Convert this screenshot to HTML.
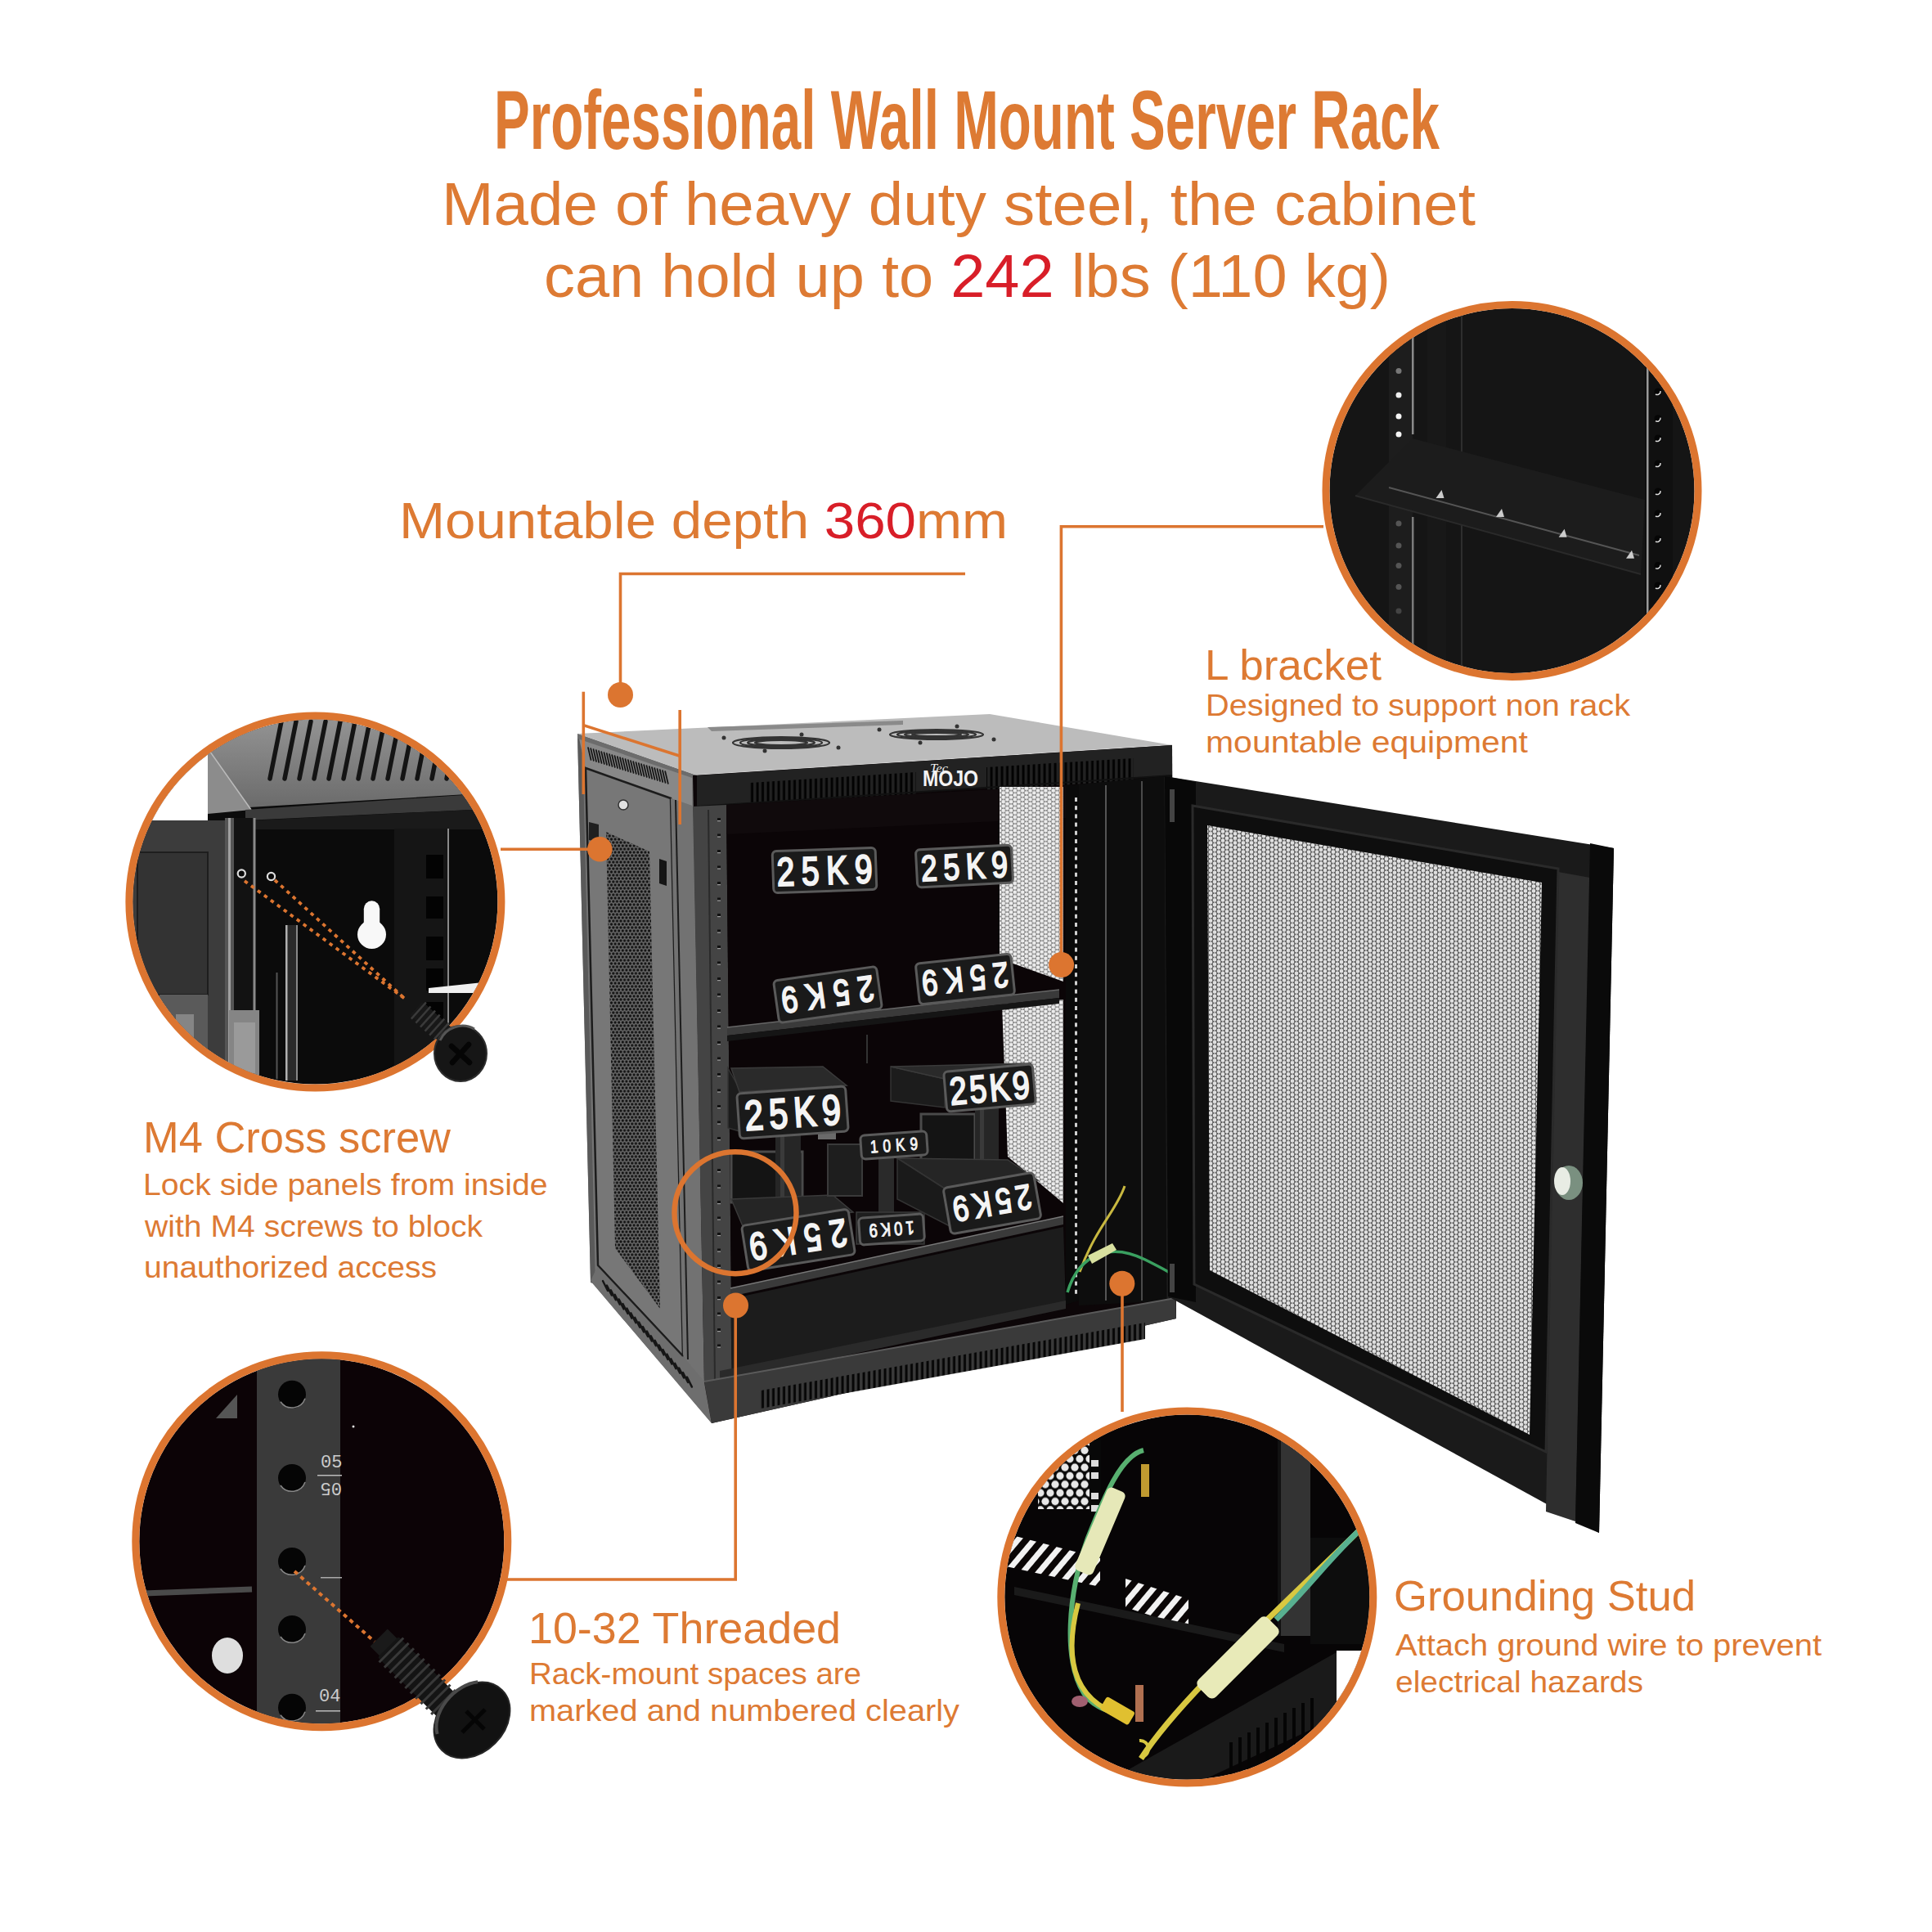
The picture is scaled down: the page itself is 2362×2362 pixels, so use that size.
<!DOCTYPE html>
<html><head><meta charset="utf-8"><title>Professional Wall Mount Server Rack</title>
<style>html,body{margin:0;padding:0;background:#fff;width:2362px;height:2362px;overflow:hidden}svg{display:block}</style>
</head><body>
<svg xmlns="http://www.w3.org/2000/svg" width="2362" height="2362" viewBox="0 0 2362 2362">
<defs>
<pattern id="perfDoor" patternUnits="userSpaceOnUse" width="10" height="5.6">
  <rect width="10" height="5.6" fill="#333333"/>
  <circle cx="0" cy="0" r="2.45" fill="#e0e0e0"/>
  <circle cx="10" cy="0" r="2.45" fill="#e0e0e0"/>
  <circle cx="0" cy="5.6" r="2.45" fill="#e0e0e0"/>
  <circle cx="10" cy="5.6" r="2.45" fill="#e0e0e0"/>
  <circle cx="5" cy="2.8" r="2.45" fill="#e0e0e0"/>
</pattern>
<pattern id="perfRear" patternUnits="userSpaceOnUse" width="9.4" height="5.4">
  <rect width="9.4" height="5.4" fill="#444444"/>
  <circle cx="0" cy="0" r="2.5" fill="#ececec"/>
  <circle cx="9.4" cy="0" r="2.5" fill="#ececec"/>
  <circle cx="0" cy="5.4" r="2.5" fill="#ececec"/>
  <circle cx="9.4" cy="5.4" r="2.5" fill="#ececec"/>
  <circle cx="4.7" cy="2.7" r="2.5" fill="#ececec"/>
</pattern>
<pattern id="perfSide" patternUnits="userSpaceOnUse" width="4.6" height="8">
  <rect width="4.6" height="8" fill="#6a6a6a"/>
  <circle cx="2.3" cy="2" r="1.65" fill="#141414"/>
  <circle cx="0" cy="6" r="1.65" fill="#141414"/>
  <circle cx="4.6" cy="6" r="1.65" fill="#141414"/>
</pattern>
<pattern id="ventB" patternUnits="userSpaceOnUse" width="6.5" height="40">
  <rect width="6.5" height="40" fill="#3a3a3a"/>
  <rect x="1.5" width="3" height="40" fill="#050505"/>
</pattern>
<pattern id="ventV" patternUnits="userSpaceOnUse" width="6.5" height="40">
  <rect width="6.5" height="40" fill="#222"/>
  <rect x="1.5" width="3" height="40" fill="#020202"/>
</pattern>
<pattern id="ventS" patternUnits="userSpaceOnUse" width="7" height="40" patternTransform="skewX(-30)">
  <rect width="7" height="40" fill="#444"/>
  <rect x="2" width="3" height="40" fill="#0a0a0a"/>
</pattern>
<pattern id="perfBig" patternUnits="userSpaceOnUse" width="12" height="20.8">
  <rect width="12" height="20.8" fill="#0a0a0a"/>
  <circle cx="6" cy="5.2" r="4.6" fill="#e8e8e8"/>
  <circle cx="0" cy="15.6" r="4.6" fill="#e8e8e8"/>
  <circle cx="12" cy="15.6" r="4.6" fill="#e8e8e8"/>
</pattern>
<pattern id="stripes" patternUnits="userSpaceOnUse" width="15" height="15" patternTransform="rotate(40)">
  <rect width="15" height="15" fill="#0a0606"/>
  <rect x="0" width="7" height="15" fill="#f2f2f2"/>
</pattern>
<clipPath id="c1"><circle cx="1848.5" cy="600" r="223"/></clipPath><clipPath id="c2"><circle cx="385.4" cy="1102.6" r="223"/></clipPath><linearGradient id="ovh" x1="0" y1="0" x2="0" y2="1"><stop offset="0" stop-color="#9a9a9a"/><stop offset="1" stop-color="#6a6a6a"/></linearGradient><clipPath id="c3"><circle cx="393.3" cy="1884.2" r="223"/></clipPath><clipPath id="c4"><circle cx="1451.3" cy="1952.6" r="223"/></clipPath></defs>
<rect width="2362" height="2362" fill="#ffffff"/>
<g font-family="Liberation Sans, sans-serif">
<text x="604" y="182" font-size="102" font-weight="bold" fill="#DD7A33" textLength="1156" lengthAdjust="spacingAndGlyphs" >Professional Wall Mount Server Rack</text>
<text x="540" y="275.4" font-size="74" font-weight="normal" fill="#DD7A33" textLength="1264" lengthAdjust="spacingAndGlyphs" >Made of heavy duty steel, the cabinet</text>
<text x="665" y="363" font-size="74" font-weight="normal" fill="#DD7A33" textLength="1035" lengthAdjust="spacingAndGlyphs" >can hold up to <tspan fill="#D81E28">242</tspan> lbs (110 kg)</text>
<text x="488" y="658.2" font-size="63.5" font-weight="normal" fill="#DD7A33" textLength="744" lengthAdjust="spacingAndGlyphs" >Mountable depth <tspan fill="#D81E28">360</tspan>mm</text>
<text x="1473" y="831.2" font-size="51.6" font-weight="normal" fill="#DD7A33" textLength="216" lengthAdjust="spacingAndGlyphs" >L bracket</text>
<text x="1474" y="874.8" font-size="36.3" font-weight="normal" fill="#DD7A33" textLength="519" lengthAdjust="spacingAndGlyphs" >Designed to support non rack</text>
<text x="1474" y="920.3" font-size="36.3" font-weight="normal" fill="#DD7A33" textLength="394" lengthAdjust="spacingAndGlyphs" >mountable equipment</text>
<text x="175" y="1408.9" font-size="52.8" font-weight="normal" fill="#DD7A33" textLength="376" lengthAdjust="spacingAndGlyphs" >M4 Cross screw</text>
<text x="175" y="1461.2" font-size="36.6" font-weight="normal" fill="#DD7A33" textLength="494.5" lengthAdjust="spacingAndGlyphs" >Lock side panels from inside</text>
<text x="177" y="1511.8" font-size="36.6" font-weight="normal" fill="#DD7A33" textLength="413" lengthAdjust="spacingAndGlyphs" >with M4 screws to block</text>
<text x="176" y="1561.8" font-size="36.6" font-weight="normal" fill="#DD7A33" textLength="358" lengthAdjust="spacingAndGlyphs" >unauthorized access</text>
<text x="646" y="2009.3" font-size="53.8" font-weight="normal" fill="#DD7A33" textLength="382" lengthAdjust="spacingAndGlyphs" >10-32 Threaded</text>
<text x="647" y="2058.6" font-size="36" font-weight="normal" fill="#DD7A33" textLength="406" lengthAdjust="spacingAndGlyphs" >Rack-mount spaces are</text>
<text x="647" y="2103.5" font-size="36" font-weight="normal" fill="#DD7A33" textLength="526" lengthAdjust="spacingAndGlyphs" >marked and numbered clearly</text>
<text x="1704" y="1968.7" font-size="52" font-weight="normal" fill="#DD7A33" textLength="369" lengthAdjust="spacingAndGlyphs" >Grounding Stud</text>
<text x="1706" y="2024.3" font-size="37.8" font-weight="normal" fill="#DD7A33" textLength="521" lengthAdjust="spacingAndGlyphs" >Attach ground wire to prevent</text>
<text x="1706" y="2069.3" font-size="37.8" font-weight="normal" fill="#DD7A33" textLength="303" lengthAdjust="spacingAndGlyphs" >electrical hazards</text>
</g>
<polygon points="706.0,897.0 852.0,948.0 861.0,1690.0 870.0,1740.0 722.0,1566.0" fill="#747474" />
<polygon points="706.0,897.0 712.0,899.0 728.0,1570.0 722.0,1568.0" fill="#5a5a5a" />
<polygon points="708.0,903.0 846.0,950.0 846.0,985.0 820.0,976.0 716.0,939.0" fill="#888888" />
<polygon points="706.0,897.0 852.0,948.0 852.0,953.0 706.0,903.0" fill="#6c6c6c" />
<line x1="719.0" y1="914.0" x2="722.5" y2="929.0" stroke="#141414" stroke-width="1.7" stroke-linecap="round"/>
<line x1="722.2" y1="915.0" x2="725.8" y2="930.0" stroke="#141414" stroke-width="1.7" stroke-linecap="round"/>
<line x1="725.5" y1="916.0" x2="729.0" y2="931.0" stroke="#141414" stroke-width="1.7" stroke-linecap="round"/>
<line x1="728.8" y1="917.0" x2="732.2" y2="932.0" stroke="#141414" stroke-width="1.7" stroke-linecap="round"/>
<line x1="732.0" y1="918.0" x2="735.5" y2="933.0" stroke="#141414" stroke-width="1.7" stroke-linecap="round"/>
<line x1="735.2" y1="919.0" x2="738.8" y2="934.0" stroke="#141414" stroke-width="1.7" stroke-linecap="round"/>
<line x1="738.5" y1="920.0" x2="742.0" y2="935.0" stroke="#141414" stroke-width="1.7" stroke-linecap="round"/>
<line x1="741.8" y1="921.0" x2="745.2" y2="936.0" stroke="#141414" stroke-width="1.7" stroke-linecap="round"/>
<line x1="745.0" y1="922.0" x2="748.5" y2="937.0" stroke="#141414" stroke-width="1.7" stroke-linecap="round"/>
<line x1="748.2" y1="923.0" x2="751.8" y2="938.0" stroke="#141414" stroke-width="1.7" stroke-linecap="round"/>
<line x1="751.5" y1="924.0" x2="755.0" y2="939.0" stroke="#141414" stroke-width="1.7" stroke-linecap="round"/>
<line x1="754.8" y1="925.0" x2="758.2" y2="940.0" stroke="#141414" stroke-width="1.7" stroke-linecap="round"/>
<line x1="758.0" y1="926.0" x2="761.5" y2="941.0" stroke="#141414" stroke-width="1.7" stroke-linecap="round"/>
<line x1="761.2" y1="927.0" x2="764.8" y2="942.0" stroke="#141414" stroke-width="1.7" stroke-linecap="round"/>
<line x1="764.5" y1="928.0" x2="768.0" y2="943.0" stroke="#141414" stroke-width="1.7" stroke-linecap="round"/>
<line x1="767.8" y1="929.0" x2="771.2" y2="944.0" stroke="#141414" stroke-width="1.7" stroke-linecap="round"/>
<line x1="771.0" y1="930.0" x2="774.5" y2="945.0" stroke="#141414" stroke-width="1.7" stroke-linecap="round"/>
<line x1="774.2" y1="931.0" x2="777.8" y2="946.0" stroke="#141414" stroke-width="1.7" stroke-linecap="round"/>
<line x1="777.5" y1="932.0" x2="781.0" y2="947.0" stroke="#141414" stroke-width="1.7" stroke-linecap="round"/>
<line x1="780.8" y1="933.0" x2="784.2" y2="948.0" stroke="#141414" stroke-width="1.7" stroke-linecap="round"/>
<line x1="784.0" y1="934.0" x2="787.5" y2="949.0" stroke="#141414" stroke-width="1.7" stroke-linecap="round"/>
<line x1="787.2" y1="935.0" x2="790.8" y2="950.0" stroke="#141414" stroke-width="1.7" stroke-linecap="round"/>
<line x1="790.5" y1="936.0" x2="794.0" y2="951.0" stroke="#141414" stroke-width="1.7" stroke-linecap="round"/>
<line x1="793.8" y1="937.0" x2="797.2" y2="952.0" stroke="#141414" stroke-width="1.7" stroke-linecap="round"/>
<line x1="797.0" y1="938.0" x2="800.5" y2="953.0" stroke="#141414" stroke-width="1.7" stroke-linecap="round"/>
<line x1="800.2" y1="939.0" x2="803.8" y2="954.0" stroke="#141414" stroke-width="1.7" stroke-linecap="round"/>
<line x1="803.5" y1="940.0" x2="807.0" y2="955.0" stroke="#141414" stroke-width="1.7" stroke-linecap="round"/>
<line x1="806.8" y1="941.0" x2="810.2" y2="956.0" stroke="#141414" stroke-width="1.7" stroke-linecap="round"/>
<line x1="810.0" y1="942.0" x2="813.5" y2="957.0" stroke="#141414" stroke-width="1.7" stroke-linecap="round"/>
<line x1="813.2" y1="943.0" x2="816.8" y2="958.0" stroke="#141414" stroke-width="1.7" stroke-linecap="round"/>
<polygon points="716.0,939.0 820.0,976.0 835.0,1658.0 731.0,1547.0" fill="#777777" stroke="#1c1c1c" stroke-width="2.5"/>
<polygon points="741.0,1017.0 794.0,1041.0 807.0,1600.0 752.0,1526.0" fill="url(#perfSide)" />
<polygon points="806.0,1050.0 815.0,1053.0 815.0,1083.0 806.0,1080.0" fill="#151515" />
<polygon points="720.0,1005.0 732.0,1008.0 732.0,1030.0 720.0,1027.0" fill="#202020" />
<circle cx="762" cy="984" r="6" fill="#e0e0e0" stroke="#333" stroke-width="1.5"/>
<polygon points="820.0,976.0 846.0,985.0 861.0,1689.0 835.0,1658.0" fill="#727272" />
<line x1="826" y1="978" x2="841" y2="1662" stroke="#1c1c1c" stroke-width="2" />
<polygon points="722.0,1566.0 731.0,1547.0 835.0,1658.0 861.0,1689.0 870.0,1740.0" fill="#6e6e6e" />
<line x1="731" y1="1547" x2="835" y2="1658" stroke="#1c1c1c" stroke-width="2" />
<line x1="737.0" y1="1566.0" x2="743.0" y2="1578.0" stroke="#151515" stroke-width="2.4" stroke-linecap="round"/>
<line x1="741.9" y1="1571.6" x2="747.9" y2="1583.6" stroke="#151515" stroke-width="2.4" stroke-linecap="round"/>
<line x1="746.8" y1="1577.2" x2="752.8" y2="1589.2" stroke="#151515" stroke-width="2.4" stroke-linecap="round"/>
<line x1="751.7" y1="1582.8" x2="757.7" y2="1594.8" stroke="#151515" stroke-width="2.4" stroke-linecap="round"/>
<line x1="756.6" y1="1588.4" x2="762.6" y2="1600.4" stroke="#151515" stroke-width="2.4" stroke-linecap="round"/>
<line x1="761.5" y1="1594.0" x2="767.5" y2="1606.0" stroke="#151515" stroke-width="2.4" stroke-linecap="round"/>
<line x1="766.4" y1="1599.6" x2="772.4" y2="1611.6" stroke="#151515" stroke-width="2.4" stroke-linecap="round"/>
<line x1="771.3" y1="1605.2" x2="777.3" y2="1617.2" stroke="#151515" stroke-width="2.4" stroke-linecap="round"/>
<line x1="776.2" y1="1610.8" x2="782.2" y2="1622.8" stroke="#151515" stroke-width="2.4" stroke-linecap="round"/>
<line x1="781.1" y1="1616.4" x2="787.1" y2="1628.4" stroke="#151515" stroke-width="2.4" stroke-linecap="round"/>
<line x1="786.0" y1="1622.0" x2="792.0" y2="1634.0" stroke="#151515" stroke-width="2.4" stroke-linecap="round"/>
<line x1="790.9" y1="1627.6" x2="796.9" y2="1639.6" stroke="#151515" stroke-width="2.4" stroke-linecap="round"/>
<line x1="795.8" y1="1633.2" x2="801.8" y2="1645.2" stroke="#151515" stroke-width="2.4" stroke-linecap="round"/>
<line x1="800.7" y1="1638.8" x2="806.7" y2="1650.8" stroke="#151515" stroke-width="2.4" stroke-linecap="round"/>
<line x1="805.6" y1="1644.4" x2="811.6" y2="1656.4" stroke="#151515" stroke-width="2.4" stroke-linecap="round"/>
<line x1="810.5" y1="1650.0" x2="816.5" y2="1662.0" stroke="#151515" stroke-width="2.4" stroke-linecap="round"/>
<line x1="815.4" y1="1655.6" x2="821.4" y2="1667.6" stroke="#151515" stroke-width="2.4" stroke-linecap="round"/>
<line x1="820.3" y1="1661.2" x2="826.3" y2="1673.2" stroke="#151515" stroke-width="2.4" stroke-linecap="round"/>
<line x1="825.2" y1="1666.8" x2="831.2" y2="1678.8" stroke="#151515" stroke-width="2.4" stroke-linecap="round"/>
<line x1="830.1" y1="1672.4" x2="836.1" y2="1684.4" stroke="#151515" stroke-width="2.4" stroke-linecap="round"/>
<line x1="835.0" y1="1678.0" x2="841.0" y2="1690.0" stroke="#151515" stroke-width="2.4" stroke-linecap="round"/>
<line x1="839.9" y1="1683.6" x2="845.9" y2="1695.6" stroke="#151515" stroke-width="2.4" stroke-linecap="round"/>
<polygon points="706.0,897.0 1210.0,873.0 1433.0,911.0 852.0,948.0" fill="#bcbcbc" />
<line x1="852" y1="948" x2="1433" y2="911" stroke="#d8d8d8" stroke-width="2" />
<ellipse cx="955" cy="908" rx="59" ry="7.0" fill="none" stroke="#333" stroke-width="2.2"/>
<ellipse cx="955" cy="908" rx="50" ry="5.7" fill="none" stroke="#333" stroke-width="2.2"/>
<ellipse cx="955" cy="908" rx="41" ry="4.4" fill="none" stroke="#333" stroke-width="2.2"/>
<ellipse cx="955" cy="908" rx="32" ry="3.1" fill="none" stroke="#333" stroke-width="2.2"/>
<circle cx="885" cy="902" r="2.5" fill="#333"/>
<circle cx="1025" cy="914" r="2.5" fill="#333"/>
<circle cx="935" cy="918" r="2.5" fill="#333"/>
<circle cx="980" cy="898" r="2.5" fill="#333"/>
<ellipse cx="1145" cy="898" rx="57" ry="6.0" fill="none" stroke="#333" stroke-width="2.2"/>
<ellipse cx="1145" cy="898" rx="48" ry="4.7" fill="none" stroke="#333" stroke-width="2.2"/>
<ellipse cx="1145" cy="898" rx="39" ry="3.4" fill="none" stroke="#333" stroke-width="2.2"/>
<ellipse cx="1145" cy="898" rx="30" ry="2.1" fill="none" stroke="#333" stroke-width="2.2"/>
<circle cx="1075" cy="892" r="2.5" fill="#333"/>
<circle cx="1215" cy="904" r="2.5" fill="#333"/>
<circle cx="1125" cy="908" r="2.5" fill="#333"/>
<circle cx="1170" cy="888" r="2.5" fill="#333"/>
<polygon points="865.0,889.0 1104.0,881.0 1104.0,886.0 870.0,894.0" fill="#8a8a8a" />
<polygon points="847.0,948.0 1433.0,911.0 1438.0,1612.0 870.0,1740.0 861.0,1690.0" fill="#0c0608" />
<polygon points="852.0,948.0 1433.0,911.0 1433.0,948.0 852.0,986.0" fill="#222222" />
<polygon points="917.0,957.0 1120.0,944.0 1120.0,972.0 917.0,984.0" fill="url(#ventV)" />
<polygon points="1206.0,938.0 1386.0,927.0 1386.0,954.0 1206.0,966.0" fill="url(#ventV)" />
<line x1="852" y1="986" x2="1433" y2="948" stroke="#111" stroke-width="2" />
<text x="1128" y="961" font-family="Liberation Sans, sans-serif" font-weight="bold" font-size="27" fill="#f4f4f4" textLength="68" lengthAdjust="spacingAndGlyphs">MOJO</text>
<text x="1137" y="944" font-family="Liberation Serif, serif" font-style="italic" font-size="14" fill="#eee" textLength="22" lengthAdjust="spacingAndGlyphs">Tec</text>
<polygon points="847.0,986.0 888.0,984.0 895.0,1690.0 861.0,1690.0" fill="#444444" />
<line x1="866" y1="990" x2="874" y2="1688" stroke="#2a2a2a" stroke-width="2" />
<rect x="877" y="1000.0" width="4" height="3" fill="#111"/>
<rect x="877" y="1003.0" width="4" height="1.2" fill="#999"/>
<rect x="877" y="1019.5" width="4" height="3" fill="#111"/>
<rect x="877" y="1022.5" width="4" height="1.2" fill="#999"/>
<rect x="877" y="1039.0" width="4" height="3" fill="#111"/>
<rect x="877" y="1042.0" width="4" height="1.2" fill="#999"/>
<rect x="877" y="1058.5" width="4" height="3" fill="#111"/>
<rect x="877" y="1061.5" width="4" height="1.2" fill="#999"/>
<rect x="877" y="1078.0" width="4" height="3" fill="#111"/>
<rect x="877" y="1081.0" width="4" height="1.2" fill="#999"/>
<rect x="877" y="1097.5" width="4" height="3" fill="#111"/>
<rect x="877" y="1100.5" width="4" height="1.2" fill="#999"/>
<rect x="877" y="1117.0" width="4" height="3" fill="#111"/>
<rect x="877" y="1120.0" width="4" height="1.2" fill="#999"/>
<rect x="877" y="1136.5" width="4" height="3" fill="#111"/>
<rect x="877" y="1139.5" width="4" height="1.2" fill="#999"/>
<rect x="877" y="1156.0" width="4" height="3" fill="#111"/>
<rect x="877" y="1159.0" width="4" height="1.2" fill="#999"/>
<rect x="877" y="1175.5" width="4" height="3" fill="#111"/>
<rect x="877" y="1178.5" width="4" height="1.2" fill="#999"/>
<rect x="877" y="1195.0" width="4" height="3" fill="#111"/>
<rect x="877" y="1198.0" width="4" height="1.2" fill="#999"/>
<rect x="877" y="1214.5" width="4" height="3" fill="#111"/>
<rect x="877" y="1217.5" width="4" height="1.2" fill="#999"/>
<rect x="877" y="1234.0" width="4" height="3" fill="#111"/>
<rect x="877" y="1237.0" width="4" height="1.2" fill="#999"/>
<rect x="877" y="1253.5" width="4" height="3" fill="#111"/>
<rect x="877" y="1256.5" width="4" height="1.2" fill="#999"/>
<rect x="877" y="1273.0" width="4" height="3" fill="#111"/>
<rect x="877" y="1276.0" width="4" height="1.2" fill="#999"/>
<rect x="877" y="1292.5" width="4" height="3" fill="#111"/>
<rect x="877" y="1295.5" width="4" height="1.2" fill="#999"/>
<rect x="877" y="1312.0" width="4" height="3" fill="#111"/>
<rect x="877" y="1315.0" width="4" height="1.2" fill="#999"/>
<rect x="877" y="1331.5" width="4" height="3" fill="#111"/>
<rect x="877" y="1334.5" width="4" height="1.2" fill="#999"/>
<rect x="877" y="1351.0" width="4" height="3" fill="#111"/>
<rect x="877" y="1354.0" width="4" height="1.2" fill="#999"/>
<rect x="877" y="1370.5" width="4" height="3" fill="#111"/>
<rect x="877" y="1373.5" width="4" height="1.2" fill="#999"/>
<rect x="877" y="1390.0" width="4" height="3" fill="#111"/>
<rect x="877" y="1393.0" width="4" height="1.2" fill="#999"/>
<rect x="877" y="1409.5" width="4" height="3" fill="#111"/>
<rect x="877" y="1412.5" width="4" height="1.2" fill="#999"/>
<rect x="877" y="1429.0" width="4" height="3" fill="#111"/>
<rect x="877" y="1432.0" width="4" height="1.2" fill="#999"/>
<rect x="877" y="1448.5" width="4" height="3" fill="#111"/>
<rect x="877" y="1451.5" width="4" height="1.2" fill="#999"/>
<rect x="877" y="1468.0" width="4" height="3" fill="#111"/>
<rect x="877" y="1471.0" width="4" height="1.2" fill="#999"/>
<rect x="877" y="1487.5" width="4" height="3" fill="#111"/>
<rect x="877" y="1490.5" width="4" height="1.2" fill="#999"/>
<rect x="877" y="1507.0" width="4" height="3" fill="#111"/>
<rect x="877" y="1510.0" width="4" height="1.2" fill="#999"/>
<rect x="877" y="1526.5" width="4" height="3" fill="#111"/>
<rect x="877" y="1529.5" width="4" height="1.2" fill="#999"/>
<rect x="877" y="1546.0" width="4" height="3" fill="#111"/>
<rect x="877" y="1549.0" width="4" height="1.2" fill="#999"/>
<rect x="877" y="1565.5" width="4" height="3" fill="#111"/>
<rect x="877" y="1568.5" width="4" height="1.2" fill="#999"/>
<rect x="877" y="1585.0" width="4" height="3" fill="#111"/>
<rect x="877" y="1588.0" width="4" height="1.2" fill="#999"/>
<rect x="877" y="1604.5" width="4" height="3" fill="#111"/>
<rect x="877" y="1607.5" width="4" height="1.2" fill="#999"/>
<rect x="877" y="1624.0" width="4" height="3" fill="#111"/>
<rect x="877" y="1627.0" width="4" height="1.2" fill="#999"/>
<rect x="877" y="1643.5" width="4" height="3" fill="#111"/>
<rect x="877" y="1646.5" width="4" height="1.2" fill="#999"/>
<polygon points="888.0,984.0 1303.0,960.0 1303.0,1600.0 895.0,1690.0" fill="#0b0507" />
<polygon points="888.0,984.0 1303.0,960.0 1303.0,1000.0 888.0,1020.0" fill="#100a0c" />
<polygon points="1222.0,962.0 1300.0,962.0 1300.0,1200.0 1222.0,1172.0" fill="url(#perfRear)" />
<polygon points="1225.0,1228.0 1300.0,1222.0 1300.0,1471.0 1232.0,1414.0" fill="url(#perfRear)" />
<polygon points="1303.0,960.0 1319.0,959.0 1319.0,1590.0 1303.0,1595.0" fill="#0a0a0a" />
<rect x="1314" y="975.0" width="3" height="5" fill="#cfcfcf"/>
<rect x="1314" y="985.2" width="3" height="5" fill="#cfcfcf"/>
<rect x="1314" y="995.4" width="3" height="5" fill="#cfcfcf"/>
<rect x="1314" y="1005.6" width="3" height="5" fill="#cfcfcf"/>
<rect x="1314" y="1015.8" width="3" height="5" fill="#cfcfcf"/>
<rect x="1314" y="1026.0" width="3" height="5" fill="#cfcfcf"/>
<rect x="1314" y="1036.2" width="3" height="5" fill="#cfcfcf"/>
<rect x="1314" y="1046.4" width="3" height="5" fill="#cfcfcf"/>
<rect x="1314" y="1056.6" width="3" height="5" fill="#cfcfcf"/>
<rect x="1314" y="1066.8" width="3" height="5" fill="#cfcfcf"/>
<rect x="1314" y="1077.0" width="3" height="5" fill="#cfcfcf"/>
<rect x="1314" y="1087.2" width="3" height="5" fill="#cfcfcf"/>
<rect x="1314" y="1097.4" width="3" height="5" fill="#cfcfcf"/>
<rect x="1314" y="1107.6" width="3" height="5" fill="#cfcfcf"/>
<rect x="1314" y="1117.8" width="3" height="5" fill="#cfcfcf"/>
<rect x="1314" y="1128.0" width="3" height="5" fill="#cfcfcf"/>
<rect x="1314" y="1138.2" width="3" height="5" fill="#cfcfcf"/>
<rect x="1314" y="1148.4" width="3" height="5" fill="#cfcfcf"/>
<rect x="1314" y="1158.6" width="3" height="5" fill="#cfcfcf"/>
<rect x="1314" y="1168.8" width="3" height="5" fill="#cfcfcf"/>
<rect x="1314" y="1179.0" width="3" height="5" fill="#cfcfcf"/>
<rect x="1314" y="1189.2" width="3" height="5" fill="#cfcfcf"/>
<rect x="1314" y="1199.4" width="3" height="5" fill="#cfcfcf"/>
<rect x="1314" y="1209.6" width="3" height="5" fill="#cfcfcf"/>
<rect x="1314" y="1219.8" width="3" height="5" fill="#cfcfcf"/>
<rect x="1314" y="1230.0" width="3" height="5" fill="#cfcfcf"/>
<rect x="1314" y="1240.2" width="3" height="5" fill="#cfcfcf"/>
<rect x="1314" y="1250.4" width="3" height="5" fill="#cfcfcf"/>
<rect x="1314" y="1260.6" width="3" height="5" fill="#cfcfcf"/>
<rect x="1314" y="1270.8" width="3" height="5" fill="#cfcfcf"/>
<rect x="1314" y="1281.0" width="3" height="5" fill="#cfcfcf"/>
<rect x="1314" y="1291.2" width="3" height="5" fill="#cfcfcf"/>
<rect x="1314" y="1301.4" width="3" height="5" fill="#cfcfcf"/>
<rect x="1314" y="1311.6" width="3" height="5" fill="#cfcfcf"/>
<rect x="1314" y="1321.8" width="3" height="5" fill="#cfcfcf"/>
<rect x="1314" y="1332.0" width="3" height="5" fill="#cfcfcf"/>
<rect x="1314" y="1342.2" width="3" height="5" fill="#cfcfcf"/>
<rect x="1314" y="1352.4" width="3" height="5" fill="#cfcfcf"/>
<rect x="1314" y="1362.6" width="3" height="5" fill="#cfcfcf"/>
<rect x="1314" y="1372.8" width="3" height="5" fill="#cfcfcf"/>
<rect x="1314" y="1383.0" width="3" height="5" fill="#cfcfcf"/>
<rect x="1314" y="1393.2" width="3" height="5" fill="#cfcfcf"/>
<rect x="1314" y="1403.4" width="3" height="5" fill="#cfcfcf"/>
<rect x="1314" y="1413.6" width="3" height="5" fill="#cfcfcf"/>
<rect x="1314" y="1423.8" width="3" height="5" fill="#cfcfcf"/>
<rect x="1314" y="1434.0" width="3" height="5" fill="#cfcfcf"/>
<rect x="1314" y="1444.2" width="3" height="5" fill="#cfcfcf"/>
<rect x="1314" y="1454.4" width="3" height="5" fill="#cfcfcf"/>
<rect x="1314" y="1464.6" width="3" height="5" fill="#cfcfcf"/>
<rect x="1314" y="1474.8" width="3" height="5" fill="#cfcfcf"/>
<rect x="1314" y="1485.0" width="3" height="5" fill="#cfcfcf"/>
<rect x="1314" y="1495.2" width="3" height="5" fill="#cfcfcf"/>
<rect x="1314" y="1505.4" width="3" height="5" fill="#cfcfcf"/>
<rect x="1314" y="1515.6" width="3" height="5" fill="#cfcfcf"/>
<rect x="1314" y="1525.8" width="3" height="5" fill="#cfcfcf"/>
<rect x="1314" y="1536.0" width="3" height="5" fill="#cfcfcf"/>
<rect x="1314" y="1546.2" width="3" height="5" fill="#cfcfcf"/>
<rect x="1314" y="1556.4" width="3" height="5" fill="#cfcfcf"/>
<rect x="1314" y="1566.6" width="3" height="5" fill="#cfcfcf"/>
<rect x="1314" y="1576.8" width="3" height="5" fill="#cfcfcf"/>
<polygon points="1319.0,959.0 1433.0,948.0 1436.0,1590.0 1319.0,1596.0" fill="#0d0d0d" />
<line x1="1352" y1="960" x2="1352" y2="1590" stroke="#555" stroke-width="2" />
<line x1="1396" y1="955" x2="1396" y2="1590" stroke="#4a4a4a" stroke-width="2" />
<line x1="1425" y1="950" x2="1428" y2="1590" stroke="#1f1f1f" stroke-width="3" />
<polygon points="889.0,1256.0 1295.0,1210.0 1295.0,1220.0 889.0,1266.0" fill="#3a3a3a" />
<line x1="889" y1="1256" x2="1295" y2="1210" stroke="#666" stroke-width="1.5" />
<polygon points="889.0,1266.0 1295.0,1220.0 1295.0,1227.0 889.0,1273.0" fill="#151515" />
<line x1="1060" y1="1265" x2="1060" y2="1300" stroke="#333" stroke-width="2" />
<polygon points="893.0,1575.0 1300.0,1487.0 1300.0,1497.0 893.0,1585.0" fill="#3a3a3a" />
<line x1="893" y1="1575" x2="1300" y2="1487" stroke="#777" stroke-width="1.5" />
<polygon points="893.0,1588.0 1300.0,1500.0 1303.0,1595.0 895.0,1688.0" fill="#1c1c1c" />
<polygon points="880.0,1676.0 1303.0,1590.0 1303.0,1600.0 880.0,1690.0" fill="#2a2a2a" />
<polygon points="861.0,1689.0 1437.0,1587.0 1438.0,1612.0 870.0,1740.0" fill="#3a3a3a" />
<line x1="861" y1="1689" x2="1437" y2="1587" stroke="#5a5a5a" stroke-width="2" />
<polygon points="930.0,1700.0 1400.0,1617.0 1400.0,1637.0 930.0,1722.0" fill="url(#ventB)" />
<g transform="rotate(-2 1008 1064)">
<rect x="945.0" y="1038.5" width="126" height="51" rx="5" fill="#1a1a1a" stroke="#5a5a5a" stroke-width="3"/>
<text x="1008" y="1081.0" text-anchor="middle" font-family="Liberation Sans, sans-serif" font-size="48.6" fill="#f4f4f4" stroke="#f4f4f4" stroke-width="2.3" textLength="146.2" lengthAdjust="spacing" transform="translate(1008 1064) scale(0.8 1) translate(-1008 -1064)">25K9</text>
</g>
<g transform="rotate(-3 1179 1059)">
<rect x="1120.5" y="1036.0" width="117" height="46" rx="5" fill="#1a1a1a" stroke="#5a5a5a" stroke-width="3"/>
<text x="1179" y="1074.5" text-anchor="middle" font-family="Liberation Sans, sans-serif" font-size="44.3" fill="#f4f4f4" stroke="#f4f4f4" stroke-width="2.1" textLength="132.5" lengthAdjust="spacing" transform="translate(1179 1059) scale(0.8 1) translate(-1179 -1059)">25K9</text>
</g>
<g transform="rotate(-8 1012 1216)">
<rect x="948.5" y="1190.0" width="127" height="52" rx="5" fill="#1a1a1a" stroke="#5a5a5a" stroke-width="3"/>
<text x="1012" y="1231.5" text-anchor="middle" font-family="Liberation Sans, sans-serif" font-size="44.3" fill="#f4f4f4" stroke="#f4f4f4" stroke-width="2.1" textLength="142.5" lengthAdjust="spacing" transform="rotate(180 1012 1216) translate(1012 1216) scale(0.8 1) translate(-1012 -1216)">25K9</text>
</g>
<g transform="rotate(-6 1180 1197)">
<rect x="1121.5" y="1172.0" width="117" height="50" rx="5" fill="#1a1a1a" stroke="#5a5a5a" stroke-width="3"/>
<text x="1180" y="1212.0" text-anchor="middle" font-family="Liberation Sans, sans-serif" font-size="42.9" fill="#f4f4f4" stroke="#f4f4f4" stroke-width="2.0" textLength="132.5" lengthAdjust="spacing" transform="rotate(180 1180 1197) translate(1180 1197) scale(0.8 1) translate(-1180 -1197)">25K9</text>
</g>
<polygon points="890.0,1306.0 904.0,1331.0 904.0,1383.0 890.0,1379.0" fill="#1c1c1c" stroke="#333" stroke-width="1.5"/>
<polygon points="894.0,1306.0 1006.0,1304.0 1035.0,1327.0 904.0,1335.0" fill="#2a2a2a" stroke="#3a3a3a" stroke-width="1.5"/>
<polygon points="894.0,1408.0 981.0,1408.0 981.0,1470.0 894.0,1470.0" fill="#141414" stroke="#4a4a4a" stroke-width="3"/>
<rect x="948" y="1387" width="31" height="99" fill="#262626"/>
<rect x="954" y="1387" width="5" height="99" fill="#3a3a3a"/>
<rect x="1000" y="1377" width="22" height="16" fill="#6a6a6a"/>
<polygon points="894.0,1466.0 1018.0,1461.0 1043.0,1482.0 908.0,1499.0" fill="#252525" stroke="#3a3a3a" stroke-width="1.5"/>
<polygon points="1012.0,1399.0 1054.0,1399.0 1054.0,1462.0 1012.0,1462.0" fill="#1e1e1e" stroke="#3a3a3a" stroke-width="2"/>
<rect x="1074" y="1416" width="19" height="70" fill="#2a2a2a"/>
<polygon points="1047.0,1482.0 1130.0,1482.0 1130.0,1521.0 1047.0,1521.0" fill="#1e1e1e" stroke="#3a3a3a" stroke-width="1.5"/>
<polygon points="1089.0,1304.0 1155.0,1319.0 1155.0,1354.0 1089.0,1346.0" fill="#1c1c1c" stroke="#333" stroke-width="1.5"/>
<polygon points="1089.0,1304.0 1260.0,1300.0 1263.0,1306.0 1155.0,1319.0" fill="#2a2a2a" stroke="#3a3a3a" stroke-width="1.5"/>
<polygon points="1126.0,1362.0 1192.0,1362.0 1192.0,1437.0 1126.0,1437.0" fill="#141414" stroke="#4a4a4a" stroke-width="3"/>
<rect x="1192" y="1354" width="29" height="91" fill="#262626"/>
<rect x="1198" y="1354" width="5" height="91" fill="#3a3a3a"/>
<polygon points="1097.0,1416.0 1232.0,1418.0 1269.0,1443.0 1161.0,1457.0" fill="#252525" stroke="#3a3a3a" stroke-width="1.5"/>
<polygon points="1097.0,1416.0 1161.0,1457.0 1161.0,1499.0 1097.0,1466.0" fill="#1a1a1a" stroke="#333" stroke-width="1.5"/>
<g transform="rotate(-4 969 1360)">
<rect x="902.5" y="1332.5" width="133" height="55" rx="5" fill="#1a1a1a" stroke="#5a5a5a" stroke-width="3"/>
<text x="969" y="1378.0" text-anchor="middle" font-family="Liberation Sans, sans-serif" font-size="51.4" fill="#f4f4f4" stroke="#f4f4f4" stroke-width="2.4" textLength="147.5" lengthAdjust="spacing" transform="translate(969 1360) scale(0.8 1) translate(-969 -1360)">25K9</text>
</g>
<g transform="rotate(-4 1093 1400)">
<rect x="1052.5" y="1385.5" width="81" height="29" rx="5" fill="#1a1a1a" stroke="#5a5a5a" stroke-width="3"/>
<text x="1093" y="1407.5" text-anchor="middle" font-family="Liberation Sans, sans-serif" font-size="21.4" fill="#f4f4f4" stroke="#f4f4f4" stroke-width="1.0" textLength="72.5" lengthAdjust="spacing" transform="translate(1093 1400) scale(0.8 1) translate(-1093 -1400)">10K9</text>
</g>
<g transform="rotate(-5 1210 1330)">
<rect x="1155.5" y="1305.5" width="109" height="49" rx="5" fill="#1a1a1a" stroke="#5a5a5a" stroke-width="3"/>
<text x="1210" y="1346.5" text-anchor="middle" font-family="Liberation Sans, sans-serif" font-size="47.1" fill="#f4f4f4" stroke="#f4f4f4" stroke-width="2.2" textLength="122.5" lengthAdjust="spacing" transform="translate(1210 1330) scale(0.8 1) translate(-1210 -1330)">25K9</text>
</g>
<g transform="rotate(-9 976 1516)">
<rect x="910.0" y="1488.0" width="132" height="56" rx="5" fill="#1a1a1a" stroke="#5a5a5a" stroke-width="3"/>
<text x="976" y="1532.5" text-anchor="middle" font-family="Liberation Sans, sans-serif" font-size="47.1" fill="#f4f4f4" stroke="#f4f4f4" stroke-width="2.2" textLength="150.0" lengthAdjust="spacing" transform="rotate(180 976 1516) translate(976 1516) scale(0.8 1) translate(-976 -1516)">25K9</text>
</g>
<g transform="rotate(-4 1090 1503)">
<rect x="1050.5" y="1486.5" width="79" height="33" rx="5" fill="#1a1a1a" stroke="#5a5a5a" stroke-width="3"/>
<text x="1090" y="1511.0" text-anchor="middle" font-family="Liberation Sans, sans-serif" font-size="22.9" fill="#f4f4f4" stroke="#f4f4f4" stroke-width="1.1" textLength="68.8" lengthAdjust="spacing" transform="rotate(180 1090 1503) translate(1090 1503) scale(0.8 1) translate(-1090 -1503)">10K9</text>
</g>
<g transform="rotate(-10 1213 1471)">
<rect x="1157.0" y="1442.5" width="112" height="57" rx="5" fill="#1a1a1a" stroke="#5a5a5a" stroke-width="3"/>
<text x="1213" y="1486.0" text-anchor="middle" font-family="Liberation Sans, sans-serif" font-size="42.9" fill="#f4f4f4" stroke="#f4f4f4" stroke-width="2.0" textLength="121.2" lengthAdjust="spacing" transform="rotate(180 1213 1471) translate(1213 1471) scale(0.8 1) translate(-1213 -1471)">25K9</text>
</g>
<path d="M1375,1450 C1365,1480 1340,1500 1320,1555" fill="none" stroke="#c8b840" stroke-width="3"/>
<path d="M1305,1580 C1320,1530 1360,1520 1400,1540 C1430,1555 1440,1560 1450,1575" fill="none" stroke="#3aa060" stroke-width="3.5"/>
<polygon points="1330.0,1535.0 1360.0,1520.0 1365.0,1528.0 1335.0,1545.0" fill="#d8e0a0" />
<rect x="1430" y="1530" width="6" height="40" fill="#777"/>
<polygon points="1424.0,949.0 1973.0,1037.0 1955.0,1874.0 1428.0,1585.0" fill="#1a1a1a" />
<polygon points="1424.0,949.0 1462.0,956.0 1462.0,1592.0 1428.0,1585.0" fill="#080808" />
<polygon points="1905.0,1066.0 1944.0,1073.0 1926.0,1860.0 1890.0,1848.0" fill="#2e2e2e" />
<polygon points="1944.0,1031.0 1973.0,1037.0 1955.0,1874.0 1926.0,1862.0" fill="#0a0a0a" />
<polygon points="1458.0,985.0 1905.0,1062.0 1890.0,1775.0 1460.0,1570.0" fill="#0e0e0e" stroke="#2a2a2a" stroke-width="3"/>
<polygon points="1476.0,1009.0 1885.0,1079.0 1870.0,1754.0 1479.0,1553.0" fill="url(#perfDoor)" />
<rect x="1430" y="965" width="6" height="40" fill="#444"/>
<rect x="1430" y="1545" width="6" height="35" fill="#444"/>
<ellipse cx="1918" cy="1446" rx="17" ry="21" fill="#7a9080"/>
<ellipse cx="1910" cy="1444" rx="10" ry="17" fill="#e8ece4"/>
<polyline points="758.5,849 758.5,701.5 1180,701.5" fill="none" stroke="#DC7530" stroke-width="3.6"/>
<circle cx="758.5" cy="849.5" r="15.5" fill="#DC7530"/>
<polyline points="713.3,845.7 713.3,971" fill="none" stroke="#DC7530" stroke-width="3.6"/>
<polyline points="831.2,868 831.2,1008" fill="none" stroke="#DC7530" stroke-width="3.6"/>
<line x1="713.3" y1="886.6" x2="831.2" y2="924.3" stroke="#DC7530" stroke-width="3.6"/>
<line x1="612" y1="1038.3" x2="733" y2="1038.3" stroke="#DC7530" stroke-width="3.6"/>
<circle cx="733.3" cy="1038.3" r="15.3" fill="#DC7530"/>
<polyline points="1297.4,1180 1297.4,643.7 1618,643.7" fill="none" stroke="#DC7530" stroke-width="3.6"/>
<circle cx="1297.6" cy="1179.6" r="15.5" fill="#DC7530"/>
<polyline points="899.2,1596 899.2,1931 620,1931" fill="none" stroke="#DC7530" stroke-width="3.6"/>
<circle cx="899.5" cy="1596" r="15.5" fill="#DC7530"/>
<line x1="1372" y1="1569" x2="1372" y2="1726" stroke="#DC7530" stroke-width="3.6"/>
<circle cx="1371.8" cy="1569.3" r="15.5" fill="#DC7530"/>
<circle cx="899" cy="1482.7" r="74.5" fill="none" stroke="#DC7530" stroke-width="6.5"/>
<g clip-path="url(#c1)">
<rect x="1600" y="360" width="500" height="480" fill="#151515"/>
<rect x="1698" y="360" width="29" height="480" fill="#1d1d1d"/>
<rect x="1726" y="360" width="2.5" height="171" fill="#8a8a8a"/>
<rect x="1726" y="632" width="2.5" height="210" fill="#7a7a7a"/>
<rect x="1745" y="360" width="23" height="480" fill="#181818"/>
<rect x="1786" y="360" width="2" height="480" fill="#2e2e2e"/>
<rect x="2011" y="360" width="34" height="480" fill="#101010"/>
<rect x="2013" y="440" width="2.5" height="370" fill="#9a9a9a"/>
<circle cx="1710" cy="453.5" r="3.5" fill="#777"/>
<circle cx="1710" cy="483" r="3.5" fill="#eee"/>
<circle cx="1710" cy="509" r="3.5" fill="#f4f4f4"/>
<circle cx="1710" cy="531" r="3.5" fill="#f4f4f4"/>
<circle cx="1710" cy="559.6" r="3.5" fill="#555"/>
<circle cx="1710" cy="586.8" r="3.5" fill="#666"/>
<circle cx="1710" cy="640" r="3.5" fill="#555"/>
<circle cx="1710" cy="667" r="3.5" fill="#555"/>
<circle cx="1710" cy="691.6" r="3.5" fill="#555"/>
<circle cx="1710" cy="717.5" r="3.5" fill="#555"/>
<circle cx="1710" cy="747" r="3.5" fill="#444"/>
<circle cx="2027" cy="479" r="4.5" fill="#050505"/>
<path d="M2024,482 a4,4 0 0 0 6,-4" stroke="#ddd" stroke-width="1.5" fill="none"/>
<circle cx="2027" cy="511.7" r="4.5" fill="#050505"/>
<path d="M2024,514.7 a4,4 0 0 0 6,-4" stroke="#ddd" stroke-width="1.5" fill="none"/>
<circle cx="2027" cy="536" r="4.5" fill="#050505"/>
<path d="M2024,539 a4,4 0 0 0 6,-4" stroke="#ddd" stroke-width="1.5" fill="none"/>
<circle cx="2027" cy="567" r="4.5" fill="#050505"/>
<path d="M2024,570 a4,4 0 0 0 6,-4" stroke="#ddd" stroke-width="1.5" fill="none"/>
<circle cx="2027" cy="601" r="4.5" fill="#050505"/>
<path d="M2024,604 a4,4 0 0 0 6,-4" stroke="#ddd" stroke-width="1.5" fill="none"/>
<circle cx="2027" cy="628" r="4.5" fill="#050505"/>
<path d="M2024,631 a4,4 0 0 0 6,-4" stroke="#ddd" stroke-width="1.5" fill="none"/>
<circle cx="2027" cy="659" r="4.5" fill="#050505"/>
<path d="M2024,662 a4,4 0 0 0 6,-4" stroke="#ddd" stroke-width="1.5" fill="none"/>
<circle cx="2027" cy="691.6" r="4.5" fill="#050505"/>
<path d="M2024,694.6 a4,4 0 0 0 6,-4" stroke="#ddd" stroke-width="1.5" fill="none"/>
<circle cx="2027" cy="716" r="4.5" fill="#050505"/>
<path d="M2024,719 a4,4 0 0 0 6,-4" stroke="#ddd" stroke-width="1.5" fill="none"/>
<polygon points="1727.0,536.0 2011.0,611.0 2006.0,702.0 1657.0,606.0" fill="#1c1c1c" />
<line x1="1698" y1="596" x2="2004" y2="679" stroke="#555" stroke-width="2" />
<line x1="1657" y1="606" x2="2006" y2="702" stroke="#2a2a2a" stroke-width="2" />
<polygon points="1755.5,609 1765.5,609 1762.5,599" fill="#ccc"/>
<polygon points="1829,632 1839,632 1836,622" fill="#ccc"/>
<polygon points="1905.6,656.8 1915.6,656.8 1912.6,646.8" fill="#ccc"/>
<polygon points="1988,682.7 1998,682.7 1995,672.7" fill="#ccc"/>
</g>
<circle cx="1848.5" cy="600" r="227.5" fill="none" stroke="#DC7530" stroke-width="9"/>
<g clip-path="url(#c2)">
<rect x="140" y="860" width="500" height="500" fill="#0b0b0b"/>
<rect x="140" y="860" width="114" height="143" fill="#ffffff"/>
<polygon points="254.0,860.0 640.0,860.0 640.0,967.0 254.0,990.0" fill="url(#ovh)" />
<polygon points="254.0,915.0 307.0,990.0 254.0,995.0" fill="#8c8c8c" />
<line x1="254" y1="915" x2="307" y2="990" stroke="#bbb" stroke-width="1.5" />
<line x1="344" y1="882" x2="330" y2="952" stroke="#141414" stroke-width="5.5" stroke-linecap="round"/>
<line x1="362" y1="882" x2="348" y2="952" stroke="#141414" stroke-width="5.5" stroke-linecap="round"/>
<line x1="380" y1="882" x2="366" y2="952" stroke="#141414" stroke-width="5.5" stroke-linecap="round"/>
<line x1="398" y1="882" x2="384" y2="952" stroke="#141414" stroke-width="5.5" stroke-linecap="round"/>
<line x1="416" y1="882" x2="402" y2="952" stroke="#141414" stroke-width="5.5" stroke-linecap="round"/>
<line x1="434" y1="882" x2="420" y2="952" stroke="#141414" stroke-width="5.5" stroke-linecap="round"/>
<line x1="452" y1="882" x2="438" y2="952" stroke="#141414" stroke-width="5.5" stroke-linecap="round"/>
<line x1="470" y1="882" x2="456" y2="952" stroke="#141414" stroke-width="5.5" stroke-linecap="round"/>
<line x1="488" y1="882" x2="474" y2="952" stroke="#141414" stroke-width="5.5" stroke-linecap="round"/>
<line x1="506" y1="882" x2="492" y2="952" stroke="#141414" stroke-width="5.5" stroke-linecap="round"/>
<line x1="524" y1="882" x2="510" y2="952" stroke="#141414" stroke-width="5.5" stroke-linecap="round"/>
<line x1="542" y1="882" x2="528" y2="952" stroke="#141414" stroke-width="5.5" stroke-linecap="round"/>
<line x1="560" y1="882" x2="546" y2="952" stroke="#141414" stroke-width="5.5" stroke-linecap="round"/>
<polygon points="300.0,990.0 640.0,967.0 640.0,987.0 300.0,1003.0" fill="#3a3a3a" />
<polygon points="310.0,1003.0 640.0,987.0 640.0,1014.0 310.0,1014.0" fill="#1a1a1a" />
<rect x="140" y="1003" width="137" height="320" fill="#3c3c3c"/>
<rect x="168" y="1042" width="86" height="174" fill="#333" stroke="#1e1e1e" stroke-width="2"/>
<rect x="195" y="1216" width="59" height="90" fill="#5a5a5a"/>
<rect x="215" y="1240" width="22" height="70" fill="#858585"/>
<rect x="275" y="1000" width="11" height="320" fill="#555"/>
<rect x="279" y="1000" width="3" height="320" fill="#a0a0a0"/>
<rect x="286" y="1000" width="24" height="320" fill="#121212"/>
<rect x="309.5" y="1000" width="3" height="235" fill="#8a8a8a"/>
<rect x="280" y="1235" width="37" height="80" fill="#858585"/>
<rect x="286" y="1250" width="26" height="62" fill="#9a9a9a"/>
<rect x="349" y="1131" width="15" height="190" fill="#2a2a2a"/>
<rect x="349" y="1131" width="2.5" height="190" fill="#b0b0b0"/>
<rect x="362" y="1131" width="2" height="190" fill="#888"/>
<rect x="337.5" y="1189" width="2" height="130" fill="#555"/>
<rect x="482" y="1013" width="66" height="310" fill="#151515"/>
<rect x="521" y="1045" width="21" height="29" fill="#030303"/>
<rect x="521" y="1096" width="21" height="27" fill="#030303"/>
<rect x="521" y="1145" width="21" height="29" fill="#030303"/>
<rect x="521" y="1184" width="21" height="27" fill="#030303"/>
<rect x="521" y="1225" width="21" height="35" fill="#030303"/>
<rect x="547" y="1013" width="2" height="310" fill="#8a8a8a"/>
<polygon points="524.0,1208.0 600.0,1200.0 600.0,1214.0 524.0,1214.0" fill="#f0f0f0" />
<circle cx="454.5" cy="1142.5" r="17.5" fill="#f8f8f8"/>
<circle cx="454.5" cy="1111" r="9.7" fill="#f8f8f8"/>
<rect x="444.8" y="1111" width="19.4" height="30" fill="#f8f8f8"/>
<circle cx="295.3" cy="1068" r="4.6" fill="#0a0a0a" stroke="#ddd" stroke-width="2.2"/>
<circle cx="331.5" cy="1071.5" r="4.6" fill="#0a0a0a" stroke="#ddd" stroke-width="2.2"/>
<line x1="299" y1="1077" x2="495" y2="1221" stroke="#DC7530" stroke-width="3.8" stroke-dasharray="4.5,5.4"/>
<line x1="336" y1="1076" x2="496" y2="1222" stroke="#DC7530" stroke-width="3.8" stroke-dasharray="4.5,5.4"/>
</g>
<circle cx="385.4" cy="1102.6" r="227.5" fill="none" stroke="#DC7530" stroke-width="9"/>
<g transform="rotate(42 512 1235)">
<rect x="508" y="1224" width="48" height="23" rx="3" fill="#181818"/>
<rect x="511.0" y="1222" width="2.5" height="27" fill="#3a3a3a"/>
<rect x="518.5" y="1222" width="2.5" height="27" fill="#3a3a3a"/>
<rect x="526.0" y="1222" width="2.5" height="27" fill="#3a3a3a"/>
<rect x="533.5" y="1222" width="2.5" height="27" fill="#3a3a3a"/>
<rect x="541.0" y="1222" width="2.5" height="27" fill="#3a3a3a"/>
<rect x="548.5" y="1222" width="2.5" height="27" fill="#3a3a3a"/>
</g>
<ellipse cx="563" cy="1288" rx="32" ry="34" fill="#161616" stroke="#2e2e2e" stroke-width="2"/>
<path d="M538,1272 a30,30 0 0 1 42,-14" stroke="#555" stroke-width="3" fill="none"/>
<path d="M553,1299 l20,-22 M552,1279 l22,20" stroke="#050505" stroke-width="6.5" stroke-linecap="round"/>
<g clip-path="url(#c3)">
<rect x="150" y="1640" width="500" height="500" fill="#0c0306"/>
<rect x="314" y="1640" width="102" height="500" fill="#3a3a3a"/>
<circle cx="357" cy="1704.7" r="17" fill="#050505"/>
<path d="M343,1713.7 a17,17 0 0 0 30,-4" stroke="#888" stroke-width="1.5" fill="none"/>
<circle cx="357" cy="1807" r="17" fill="#050505"/>
<path d="M343,1816 a17,17 0 0 0 30,-4" stroke="#888" stroke-width="1.5" fill="none"/>
<circle cx="357" cy="1909" r="17" fill="#050505"/>
<path d="M343,1918 a17,17 0 0 0 30,-4" stroke="#888" stroke-width="1.5" fill="none"/>
<circle cx="357" cy="1992" r="17" fill="#050505"/>
<path d="M343,2001 a17,17 0 0 0 30,-4" stroke="#888" stroke-width="1.5" fill="none"/>
<circle cx="357" cy="2087.7" r="17" fill="#050505"/>
<path d="M343,2096.7 a17,17 0 0 0 30,-4" stroke="#888" stroke-width="1.5" fill="none"/>
<text x="392" y="1794" font-family="Liberation Mono, monospace" font-size="22" fill="#ccc">05</text>
<rect x="388" y="1803" width="30" height="1.5" fill="#bbb"/>
<g transform="rotate(180 405 1822)"><text x="392" y="1831" font-family="Liberation Mono, monospace" font-size="22" fill="#ccc">05</text></g>
<rect x="392" y="1928" width="26" height="1.5" fill="#aaa"/>
<text x="390" y="2080" font-family="Liberation Mono, monospace" font-size="22" fill="#ccc">04</text>
<rect x="386" y="2091" width="30" height="1.5" fill="#bbb"/>
<ellipse cx="278" cy="2024" rx="19" ry="22" fill="#dedede"/>
<line x1="176" y1="1948" x2="308" y2="1943" stroke="#4a4a4a" stroke-width="7"/>
<polygon points="264,1734 290,1734 290,1705" fill="#555"/>
<circle cx="432" cy="1744" r="1.5" fill="#ddd"/>
<line x1="360" y1="1921" x2="458" y2="2007" stroke="#DC7530" stroke-width="4" stroke-dasharray="5,5"/>
</g>
<circle cx="393.3" cy="1884.2" r="227.5" fill="none" stroke="#DC7530" stroke-width="9"/>
<g transform="rotate(45 466 2005)">
<rect x="462" y="1990" width="18" height="30" fill="#1a1a1a"/>
<rect x="478" y="1987" width="120" height="36" rx="3" fill="#141414"/>
<rect x="482" y="1984" width="3" height="42" fill="#383838"/>
<rect x="491" y="1984" width="3" height="42" fill="#383838"/>
<rect x="500" y="1984" width="3" height="42" fill="#383838"/>
<rect x="509" y="1984" width="3" height="42" fill="#383838"/>
<rect x="518" y="1984" width="3" height="42" fill="#383838"/>
<rect x="527" y="1984" width="3" height="42" fill="#383838"/>
<rect x="536" y="1984" width="3" height="42" fill="#383838"/>
<rect x="545" y="1984" width="3" height="42" fill="#383838"/>
<rect x="554" y="1984" width="3" height="42" fill="#383838"/>
<rect x="563" y="1984" width="3" height="42" fill="#383838"/>
<rect x="572" y="1984" width="3" height="42" fill="#383838"/>
<rect x="581" y="1984" width="3" height="42" fill="#383838"/>
</g>
<g transform="rotate(-45 577 2103)">
<ellipse cx="577" cy="2103" rx="52" ry="40" fill="#121212" stroke="#262626" stroke-width="2"/>
<path d="M535,2085 a48,34 0 0 1 80,-10" stroke="#4a4a4a" stroke-width="4" fill="none"/>
</g>
<path d="M565,2118 l28,-28 M570,2092 l22,22" stroke="#050505" stroke-width="5"/>
<g clip-path="url(#c4)">
<rect x="1210" y="1710" width="500" height="500" fill="#070506"/>
<polygon points="1269.0,1760.0 1337.0,1760.0 1337.0,1845.0 1269.0,1845.0" fill="url(#perfBig)" />
<rect x="1332" y="1760" width="14" height="90" fill="#080808"/>
<rect x="1334" y="1785" width="9" height="8" fill="#ddd"/>
<rect x="1334" y="1800" width="9" height="8" fill="#ddd"/>
<rect x="1334" y="1825" width="9" height="8" fill="#ddd"/>
<rect x="1334" y="1840" width="9" height="8" fill="#ddd"/>
<polygon points="1230.0,1875.0 1345.0,1905.0 1345.0,1940.0 1230.0,1915.0" fill="url(#stripes)" />
<polygon points="1376.0,1930.0 1453.0,1955.0 1453.0,1990.0 1376.0,1965.0" fill="url(#stripes)" />
<rect x="1566" y="1760" width="36" height="240" fill="#333"/>
<rect x="1562" y="1760" width="4" height="240" fill="#111"/>
<polygon points="1602.0,1880.0 1700.0,1880.0 1700.0,2010.0 1602.0,2010.0" fill="#0d0d0d" />
<polygon points="1634.0,2018.0 1700.0,2018.0 1700.0,2200.0 1634.0,2200.0" fill="#ffffff" />
<polygon points="1375.0,2166.0 1634.0,2020.0 1634.0,2100.0 1420.0,2200.0 1375.0,2200.0" fill="#1a1a1a" />
<line x1="1505" y1="2130" x2="1505" y2="2175" stroke="#050505" stroke-width="4"/>
<line x1="1516" y1="2124" x2="1516" y2="2169" stroke="#050505" stroke-width="4"/>
<line x1="1527" y1="2118" x2="1527" y2="2163" stroke="#050505" stroke-width="4"/>
<line x1="1538" y1="2112" x2="1538" y2="2157" stroke="#050505" stroke-width="4"/>
<line x1="1549" y1="2106" x2="1549" y2="2151" stroke="#050505" stroke-width="4"/>
<line x1="1560" y1="2100" x2="1560" y2="2145" stroke="#050505" stroke-width="4"/>
<line x1="1571" y1="2094" x2="1571" y2="2139" stroke="#050505" stroke-width="4"/>
<line x1="1582" y1="2088" x2="1582" y2="2133" stroke="#050505" stroke-width="4"/>
<line x1="1593" y1="2082" x2="1593" y2="2127" stroke="#050505" stroke-width="4"/>
<line x1="1604" y1="2076" x2="1604" y2="2121" stroke="#050505" stroke-width="4"/>
<polygon points="1240.0,1940.0 1570.0,2010.0 1570.0,2020.0 1240.0,1950.0" fill="#1a1a1a" />
<path d="M1398,1773 C1370,1780 1350,1830 1330,1880 C1305,1950 1300,2030 1325,2070 C1335,2085 1350,2090 1362,2094" fill="none" stroke="#58b070" stroke-width="6"/>
<path d="M1318,1960 C1300,2030 1315,2075 1362,2094" fill="none" stroke="#d8c840" stroke-width="6"/>
<path d="M1395,2150 C1440,2080 1540,1990 1665,1868" fill="none" stroke="#d8c840" stroke-width="7"/>
<path d="M1560,1980 C1600,1940 1630,1900 1665,1868" fill="none" stroke="#58b090" stroke-width="7"/>
<g transform="rotate(-67 1345 1872)"><rect x="1290" y="1860" width="110" height="24" rx="6" fill="#e6e8b8"/></g>
<g transform="rotate(-45 1510 2030)"><rect x="1455" y="2015" width="120" height="30" rx="7" fill="#e8eab8"/></g>
<g transform="rotate(30 1370 2095)"><rect x="1345" y="2085" width="40" height="18" rx="3" fill="#e0c030"/></g>
<rect x="1388" y="2060" width="10" height="45" fill="#b07050"/>
<ellipse cx="1320" cy="2080" rx="10" ry="7" fill="#a06070"/>
<path d="M1395,2148 a10,10 0 1 0 -2,-20" stroke="#d8c840" stroke-width="4" fill="none"/>
<rect x="1395" y="1790" width="10" height="40" fill="#c09a30"/>
</g>
<circle cx="1451.3" cy="1952.6" r="227.5" fill="none" stroke="#DC7530" stroke-width="9"/>
</svg>
</body></html>
